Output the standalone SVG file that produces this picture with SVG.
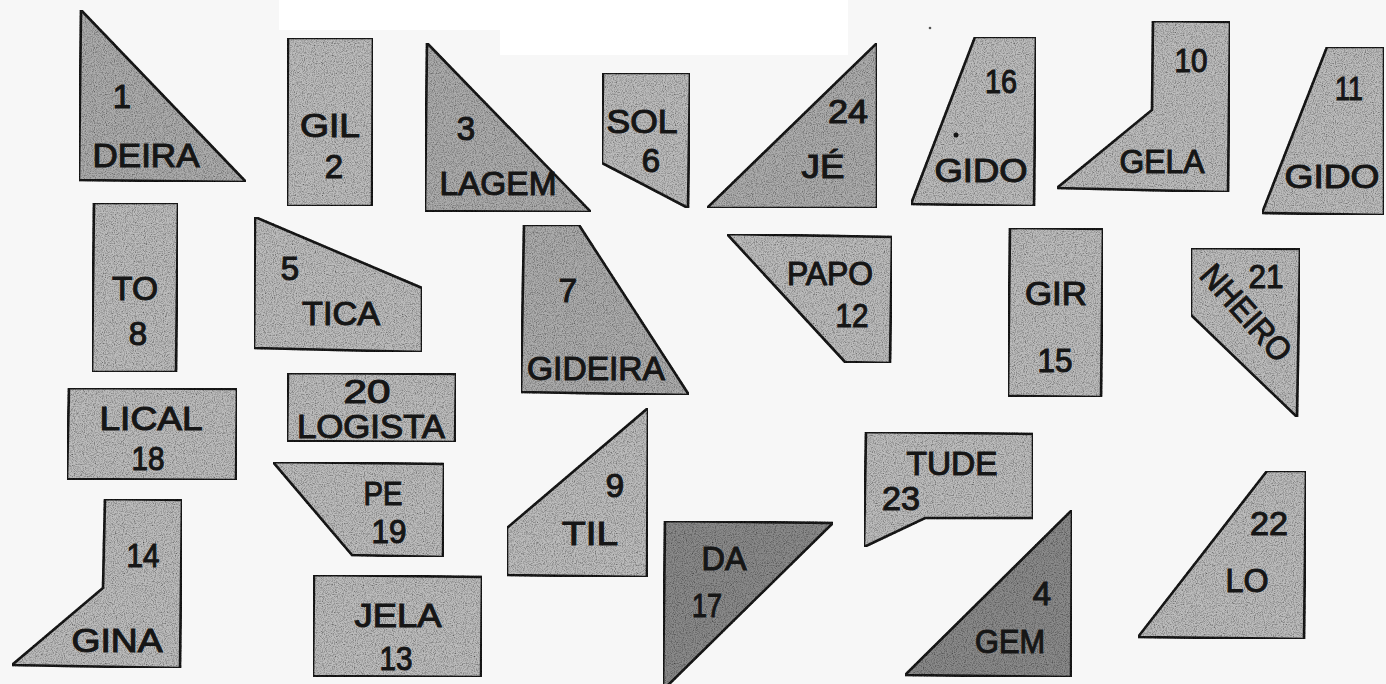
<svg xmlns="http://www.w3.org/2000/svg" width="1386" height="684" viewBox="0 0 1386 684">
<defs>
<filter id="grain" x="0" y="0" width="100%" height="100%">
<feTurbulence type="fractalNoise" baseFrequency="0.9" numOctaves="2" seed="4" result="n"/>
<feColorMatrix in="n" type="matrix" values="0 0 0 0 0  0 0 0 0 0  0 0 0 0 0  0 0 0 -1.6 0.95" result="d"/>
<feComposite in="d" in2="SourceAlpha" operator="in" result="dm"/>
<feMerge><feMergeNode in="SourceGraphic"/><feMergeNode in="dm"/></feMerge>
</filter>
<style>
.p{stroke:#1b1b1b;stroke-width:2.6;stroke-linejoin:miter;filter:url(#grain)}
.l{fill:#bcbcbc}
.m{fill:#acacac}
.d{fill:#8a8a8a}
text{font-family:"Liberation Sans","DejaVu Sans",sans-serif;font-size:33px;fill:#161616;stroke:#161616;stroke-width:1.1;text-anchor:middle}
</style>
</defs>
<rect width="1386" height="684" fill="#f7f7f7"/>
<rect x="279" y="0" width="221" height="30" fill="#ffffff"/>
<rect x="500" y="0" width="348" height="55" fill="#ffffff"/>
<circle cx="930" cy="28" r="1.3" fill="#555"/>

<g id="piece-1"><polygon class="p m" points="81,10 79,180 246,182"/><text x="122" y="108">1</text><text x="146" y="167" textLength="107" lengthAdjust="spacingAndGlyphs">DEIRA</text></g>
<g id="piece-2"><polygon class="p l" points="288,38 373,38 372,206 287,206"/><text x="330" y="137" textLength="60" lengthAdjust="spacingAndGlyphs">GIL</text><text x="334" y="178">2</text></g>
<g id="piece-3"><polygon class="p m" points="427,43 425,211 591,212"/><text x="466" y="140">3</text><text x="498" y="195" textLength="117" lengthAdjust="spacingAndGlyphs">LAGEM</text></g>
<g id="piece-6"><polygon class="p l" points="603,73 690,73 688,208 602,163"/><text x="642" y="133" textLength="71" lengthAdjust="spacingAndGlyphs">SOL</text><text x="651" y="172">6</text></g>
<g id="piece-24"><polygon class="p m" points="877,43 877,208 707,208"/><text x="848" y="123" textLength="40" lengthAdjust="spacingAndGlyphs">24</text><text x="823" y="178" textLength="43" lengthAdjust="spacingAndGlyphs">JÉ</text></g>
<g id="piece-16"><polygon class="p l" points="975,37 1036,37 1034,206 911,204"/><text x="1001" y="93" textLength="32" lengthAdjust="spacingAndGlyphs">16</text><circle cx="956" cy="135" r="2.5" fill="#161616"/><text x="981" y="182" textLength="93" lengthAdjust="spacingAndGlyphs">GIDO</text></g>
<g id="piece-10"><polygon class="p l" points="1153,21 1230,22 1228,192 1057,188 1152,110"/><text x="1191" y="72" textLength="33" lengthAdjust="spacingAndGlyphs">10</text><text x="1162" y="173" textLength="85" lengthAdjust="spacingAndGlyphs">GELA</text></g>
<g id="piece-11"><polygon class="p l" points="1327,47 1384,47 1384,215 1262,213"/><text x="1349" y="100" textLength="28" lengthAdjust="spacingAndGlyphs">11</text><text x="1332" y="188" textLength="95" lengthAdjust="spacingAndGlyphs">GIDO</text></g>

<g id="piece-8"><polygon class="p l" points="94,203 178,203 176,372 92,372"/><text x="135" y="300" textLength="46" lengthAdjust="spacingAndGlyphs">TO</text><text x="138" y="345">8</text></g>
<g id="piece-5"><polygon class="p l" points="255,217 422,288 422,352 254,348"/><text x="290" y="280">5</text><text x="341" y="325" textLength="78" lengthAdjust="spacingAndGlyphs">TICA</text></g>
<g id="piece-7"><polygon class="p m" points="524,225 579,225 689,395 521,392"/><text x="568" y="302">7</text><text x="596" y="380" textLength="138" lengthAdjust="spacingAndGlyphs">GIDEIRA</text></g>
<g id="piece-12"><polygon class="p l" points="727,234 892,237 890,363 845,362"/><text x="830" y="285" textLength="86" lengthAdjust="spacingAndGlyphs">PAPO</text><text x="852" y="327" textLength="33" lengthAdjust="spacingAndGlyphs">12</text></g>
<g id="piece-15"><polygon class="p l" points="1010,228 1103,229 1101,397 1008,396"/><text x="1056" y="305" textLength="62" lengthAdjust="spacingAndGlyphs">GIR</text><text x="1055" y="372" textLength="35" lengthAdjust="spacingAndGlyphs">15</text></g>
<g id="piece-21"><polygon class="p l" points="1191,248 1300,249 1297,417 1191,315"/><text x="1266" y="288" textLength="35" lengthAdjust="spacingAndGlyphs">21</text><text transform="translate(1246,313) rotate(48)" x="0" y="11" textLength="118" lengthAdjust="spacingAndGlyphs">NHEIRO</text></g>
<g id="piece-20"><polygon class="p l" points="288,373 456,374 455,442 287,441"/><text x="367" y="403" textLength="47" lengthAdjust="spacingAndGlyphs">20</text><text x="371" y="438" textLength="148" lengthAdjust="spacingAndGlyphs">LOGISTA</text></g>
<g id="piece-18"><polygon class="p l" points="69,388 237,389 236,480 67,479"/><text x="151" y="430" textLength="103" lengthAdjust="spacingAndGlyphs">LICAL</text><text x="148" y="470" textLength="33" lengthAdjust="spacingAndGlyphs">18</text></g>

<g id="piece-19"><polygon class="p l" points="273,462 444,464 443,557 352,555"/><text x="383" y="505" textLength="39" lengthAdjust="spacingAndGlyphs">PE</text><text x="389" y="543" textLength="35" lengthAdjust="spacingAndGlyphs">19</text></g>
<g id="piece-9"><polygon class="p l" points="648,408 647,577 507,575 507,528"/><text x="615" y="497">9</text><text x="590" y="545" textLength="56" lengthAdjust="spacingAndGlyphs">TIL</text></g>
<g id="piece-23"><polygon class="p l" points="866,432 1033,434 1033,518 925,518 864,547"/><text x="952" y="475" textLength="91" lengthAdjust="spacingAndGlyphs">TUDE</text><text x="901" y="510" textLength="38" lengthAdjust="spacingAndGlyphs">23</text></g>
<g id="piece-14"><polygon class="p l" points="105,499 182,500 180,668 12,665 103,588"/><text x="143" y="567" textLength="33" lengthAdjust="spacingAndGlyphs">14</text><text x="117" y="652" textLength="91" lengthAdjust="spacingAndGlyphs">GINA</text></g>
<g id="piece-13"><polygon class="p l" points="314,575 482,577 481,677 313,676"/><text x="398" y="627" textLength="87" lengthAdjust="spacingAndGlyphs">JELA</text><text x="396" y="670" textLength="33" lengthAdjust="spacingAndGlyphs">13</text></g>
<g id="piece-17"><polygon class="p d" points="665,521 833,523 663,690"/><text x="724" y="570" textLength="45" lengthAdjust="spacingAndGlyphs">DA</text><text x="707" y="617" textLength="30" lengthAdjust="spacingAndGlyphs">17</text></g>
<g id="piece-4"><polygon class="p d" points="1072,510 1071,677 905,675"/><text x="1042" y="605">4</text><text x="1010" y="653" textLength="70" lengthAdjust="spacingAndGlyphs">GEM</text></g>
<g id="piece-22"><polygon class="p l" points="1267,471 1306,471 1304,639 1138,637"/><text x="1269" y="535" textLength="38" lengthAdjust="spacingAndGlyphs">22</text><text x="1247" y="592" textLength="43" lengthAdjust="spacingAndGlyphs">LO</text></g>
</svg>
